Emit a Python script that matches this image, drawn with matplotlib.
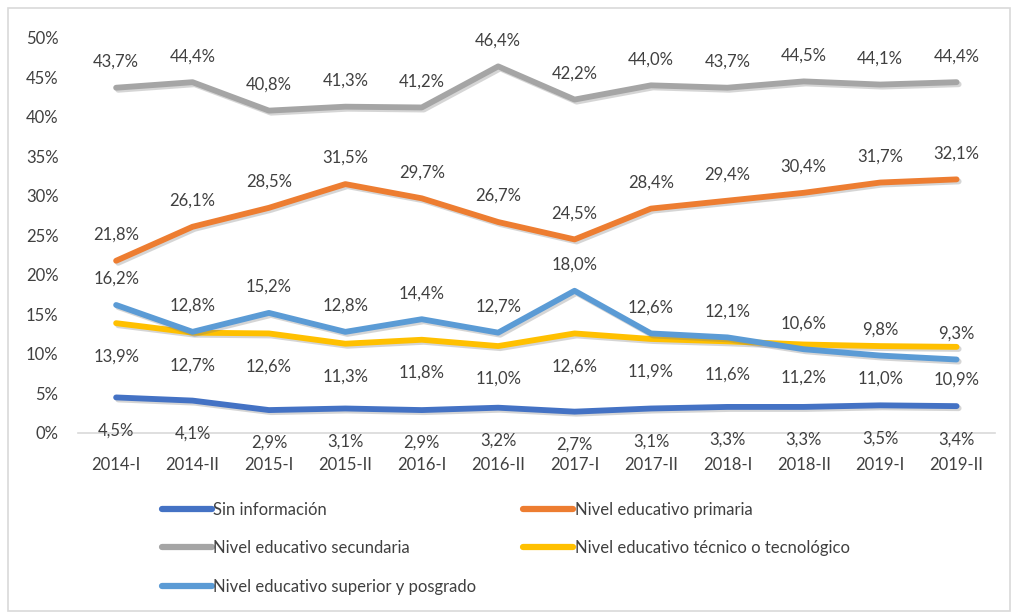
import matplotlib.pyplot as plt
import matplotlib.patheffects as pe
from matplotlib.patches import Rectangle

plt.rcParams['font.family'] = ['Lato', 'DejaVu Sans']

periods = ["2014-I", "2014-II", "2015-I", "2015-II", "2016-I", "2016-II",
           "2017-I", "2017-II", "2018-I", "2018-II", "2019-I", "2019-II"]

sin_info = [4.5, 4.1, 2.9, 3.1, 2.9, 3.2, 2.7, 3.1, 3.3, 3.3, 3.5, 3.4]
primaria = [21.8, 26.1, 28.5, 31.5, 29.7, 26.7, 24.5, 28.4, 29.4, 30.4, 31.7, 32.1]
secundaria = [43.7, 44.4, 40.8, 41.3, 41.2, 46.4, 42.2, 44.0, 43.7, 44.5, 44.1, 44.4]
tecnico = [13.9, 12.7, 12.6, 11.3, 11.8, 11.0, 12.6, 11.9, 11.6, 11.2, 11.0, 10.9]
superior = [16.2, 12.8, 15.2, 12.8, 14.4, 12.7, 18.0, 12.6, 12.1, 10.6, 9.8, 9.3]

# (label, values, color, label side)
series = [
    ("Sin información", sin_info, "#4472C4", "below"),
    ("Nivel educativo primaria", primaria, "#ED7D31", "above"),
    ("Nivel educativo secundaria", secundaria, "#A5A5A5", "above"),
    ("Nivel educativo técnico o tecnológico", tecnico, "#FFC000", "below"),
    ("Nivel educativo superior y posgrado", superior, "#5B9BD5", "above"),
]

fig = plt.figure(figsize=(10.12, 6.12), dpi=100)
ax = fig.add_axes([0.077, 0.2925, 0.906, 0.6455])

x = list(range(len(periods)))
shadow = [pe.SimpleLineShadow(offset=(1.5, -1.5), shadow_color="#777777", alpha=0.3),
          pe.Normal()]

for name, vals, color, side in series:
    ax.plot(x, vals, color=color, linewidth=4.2, solid_capstyle="round",
            solid_joinstyle="round", label=name, path_effects=shadow)

for name, vals, color, side in series:
    dy = 26 if side == "above" else -33
    for xi, v in zip(x, vals):
        ax.annotate(f"{v:.1f}%".replace(".", ","), (xi, v), xytext=(0, dy),
                    textcoords="offset pixels", ha="center", va="center",
                    fontsize=12, color="#404040")

ax.set_xlim(-0.5, len(periods) - 0.5)
ax.set_ylim(0, 50)
ax.set_yticks(range(0, 51, 5))
ax.set_yticklabels([f"{t}%" for t in range(0, 51, 5)])
ax.set_xticks(x)
ax.set_xticklabels(periods)
ax.tick_params(axis="both", length=0, labelsize=12, labelcolor="#404040")
ax.tick_params(axis="y", pad=14)
ax.tick_params(axis="x", pad=17)
for s in ["top", "right", "left"]:
    ax.spines[s].set_visible(False)
ax.spines["bottom"].set_color("#D9D9D9")
ax.spines["bottom"].set_linewidth(1.2)

# legend is filled row by row in the reference
handles, labels = ax.get_legend_handles_labels()
order = [0, 2, 4, 1, 3]
leg = fig.legend([handles[i] for i in order], [labels[i] for i in order],
                 ncol=2, loc="upper left",
                 bbox_to_anchor=(0.145, 0.205), frameon=False,
                 fontsize=12, handlelength=3.0, handletextpad=0.1,
                 columnspacing=2.8, labelspacing=1.35, labelcolor="#404040")
for h in leg.legend_handles:
    h.set_linewidth(4.5)
    h.set_path_effects([])

fig.patches.append(Rectangle((0.008, 0.002), 0.99, 0.985, transform=fig.transFigure,
                             fill=False, edgecolor="#D9D9D9", linewidth=1.2))

fig.savefig("out.png", dpi=100)
